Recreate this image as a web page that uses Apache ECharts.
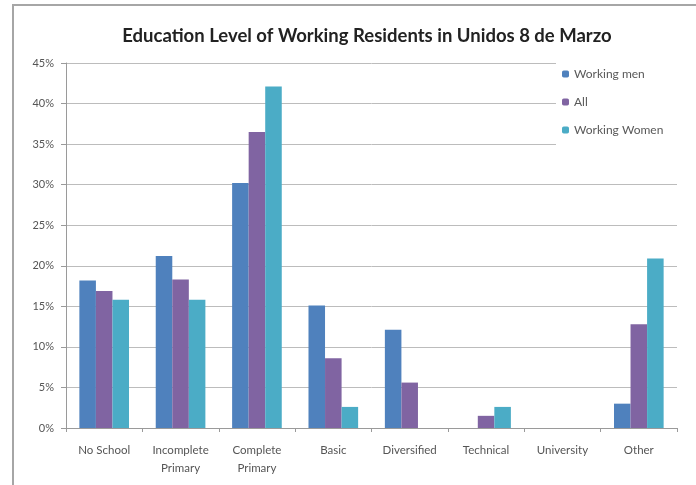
<!DOCTYPE html>
<html>
<head>
<meta charset="utf-8">
<script src="https://cdn.jsdelivr.net/npm/echarts@6/dist/echarts.min.js"></script>
<style>
  html, body { margin: 0; padding: 0; background: #fff; }
  #frame { position: absolute; left: 12px; top: 4px; right: 0; bottom: 0; border-left: 2px solid #a6a6a6; border-top: 2px solid #a6a6a6; }
  #chart { position: absolute; left: 0; top: 0; width: 696px; height: 485px; }
</style>
</head>
<body>
<div id="frame"></div>
<div id="chart"></div>
<script>
// categories on the x axis
const categories = ["No School", "Incomplete\nPrimary", "Complete\nPrimary", "Basic", "Diversified", "Technical", "University", "Other"];
// percent values per group
const workingMen = [18.2, 21.2, 30.2, 15.1, 12.1, 0, 0, 3.0];
const allResidents = [16.9, 18.3, 36.5, 8.6, 5.6, 1.5, 0, 12.8];
const workingWomen = [15.8, 15.8, 42.1, 2.6, 0, 2.6, 0, 20.9];

const chart = echarts.init(document.getElementById("chart"));
const labelFont = "Lato, 'Open Sans', sans-serif";

chart.setOption({
  animation: false,
  title: {
    text: "Education Level of Working Residents in Unidos 8 de Marzo",
    left: 362,
    textAlign: "center",
    top: 22,
    textStyle: { fontFamily: labelFont, fontSize: 18.5, fontWeight: "bold", color: "#222" }
  },
  legend: {
    orient: "vertical",
    left: 556,
    top: 60,
    itemGap: 16,
    itemWidth: 7,
    itemHeight: 7,
    padding: [8, 20, 28, 6],
    backgroundColor: "#fff",
    textStyle: { fontFamily: labelFont, fontSize: 12, color: "#595959" },
    data: ["Working men", "All", "Working Women"]
  },
  grid: { left: 66, right: 19, top: 63, bottom: 57 },
  xAxis: {
    type: "category",
    data: categories,
    axisLine: { lineStyle: { color: "#9a9a9a" } },
    axisTick: { show: true, length: 4, lineStyle: { color: "#9a9a9a" } },
    axisLabel: { fontFamily: labelFont, fontSize: 11.5, color: "#555", margin: 13, lineHeight: 18, interval: 0 }
  },
  yAxis: {
    type: "value",
    min: 0,
    max: 45,
    interval: 5,
    axisLine: { show: true, lineStyle: { color: "#9a9a9a" } },
    axisTick: { show: true, length: 5, lineStyle: { color: "#9a9a9a" } },
    axisLabel: { formatter: "{value}%", fontFamily: labelFont, fontSize: 11, color: "#555", margin: 12 },
    splitLine: { lineStyle: { color: "#bcbcbc" } }
  },
  series: [
    { name: "Working men", type: "bar", data: workingMen, itemStyle: { color: "#4f81bd" }, barGap: "0%", barCategoryGap: "35%" },
    { name: "All", type: "bar", data: allResidents, itemStyle: { color: "#8064a2" } },
    { name: "Working Women", type: "bar", data: workingWomen, itemStyle: { color: "#4bacc6" } }
  ]
});
</script>
</body>
</html>
